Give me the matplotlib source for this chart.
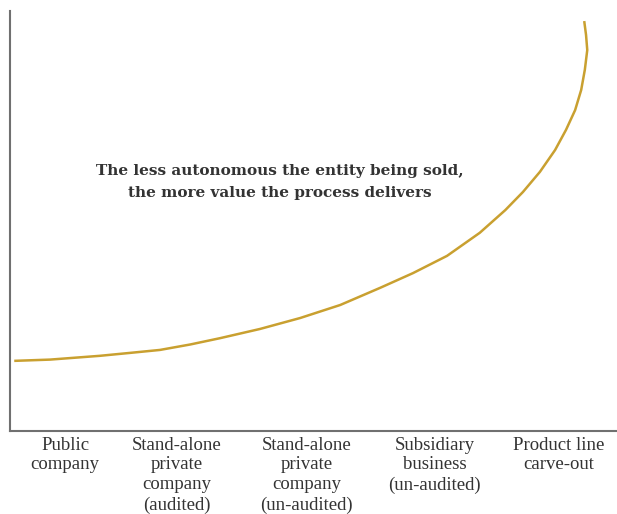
import matplotlib
matplotlib.use("Agg")
import matplotlib.pyplot as plt

# Curve (position 0-100 along x axis, value 0-100)
position = [0.7, 6.6, 14.8, 19.8, 24.7, 29.7, 34.6, 41.2, 47.8, 54.4, 61.0,
            66.4, 72.0, 77.4, 81.6, 84.5, 87.3, 89.8, 91.6, 93.1, 94.1, 94.7,
            95.1, 94.9, 94.6]
value = [16.7, 17.0, 17.9, 18.6, 19.3, 20.6, 22.1, 24.3, 26.9, 30.0, 34.1,
         37.6, 41.7, 47.2, 52.6, 56.9, 61.7, 66.9, 71.7, 76.4, 81.2, 86.0,
         90.7, 94.3, 97.6]

categories = ["Public\ncompany",
              "Stand-alone\nprivate\ncompany\n(audited)",
              "Stand-alone\nprivate\ncompany\n(un-audited)",
              "Subsidiary\nbusiness\n(un-audited)",
              "Product line\ncarve-out"]
category_pos = [9.1, 27.5, 48.9, 70.0, 90.4]

annotation = "The less autonomous the entity being sold,\nthe more value the process delivers"

fig = plt.figure(figsize=(6.17, 5.14), dpi=100)
ax = fig.add_axes([10/617, 1 - 431/514, 607/617, 420/514])
ax.plot(position, value, color="#C9A030", lw=1.8, solid_capstyle="butt",
        solid_joinstyle="round")
ax.set_xlim(0, 100)
ax.set_ylim(0, 100)
for s in ["top", "right"]:
    ax.spines[s].set_visible(False)
for s in ["left", "bottom"]:
    ax.spines[s].set_color("#707070")
    ax.spines[s].set_linewidth(1.5)
ax.set_yticks([])
ax.set_xticks(category_pos)
ax.set_xticklabels(categories, fontfamily="Liberation Serif", fontsize=13.5,
                   color="#333333", linespacing=1.22, va="top")
ax.tick_params(axis="x", length=0, pad=4)

ax.text(44.4, 59.3, annotation, ha="center", va="center",
        fontfamily="DejaVu Serif", fontweight="bold", fontsize=11,
        color="#333333", linespacing=1.65)

fig.savefig("out.png", dpi=100)
